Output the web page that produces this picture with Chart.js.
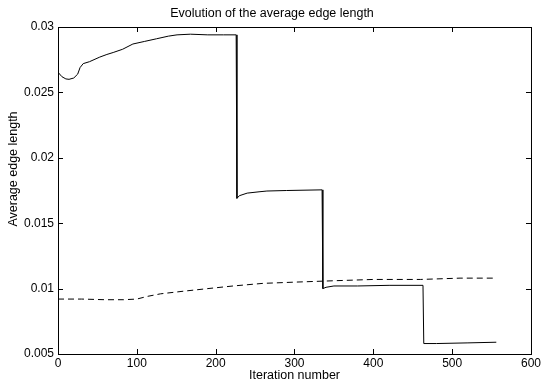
<!DOCTYPE html>
<html>
<head>
<meta charset="utf-8">
<script src="https://cdn.jsdelivr.net/npm/chart.js@4/dist/chart.umd.min.js"></script>
<style>
  html, body { margin: 0; padding: 0; background: #fff; }
  #wrap { width: 543px; height: 383px; }
</style>
</head>
<body>
<div id="wrap"><canvas id="edgeChart"></canvas></div>
<script>
// solid line: average edge length per iteration
const solidIter = [0, 5, 10, 14, 20, 25, 28, 32, 40, 53, 62, 70, 82, 95, 110, 125, 140, 151, 168, 190, 210, 226,
    227, 230, 240, 255, 265, 290, 335,
    336, 340, 350, 380, 420, 463,
    464, 480, 520, 556];
const solidVal = [0.02654, 0.0262, 0.02603, 0.026, 0.0261, 0.0264, 0.0269, 0.0272, 0.02735, 0.0277, 0.0279, 0.02805, 0.0283, 0.0287, 0.0289, 0.0291, 0.0293, 0.0294, 0.02945, 0.0294, 0.0294, 0.0294,
    0.0169, 0.0171, 0.0173, 0.0174, 0.01746, 0.0175, 0.01755,
    0.0100, 0.0101, 0.0102, 0.0102, 0.01025, 0.01025,
    0.0058, 0.0058, 0.00585, 0.0059];

// dashed line
const dashIter = [0, 30, 60, 83, 100, 113, 130, 159, 190, 222, 260, 303, 350, 400, 460, 510, 556];
const dashVal = [0.0092, 0.0092, 0.00915, 0.00915, 0.0092, 0.0094, 0.0096, 0.0098, 0.01, 0.0102, 0.0104, 0.0105, 0.0106, 0.0107, 0.0107, 0.0108, 0.0108];

const xTicks = [0, 100, 200, 300, 400, 500, 600];
const yTicks = [0.005, 0.01, 0.015, 0.02, 0.025, 0.03];

const titleText = 'Evolution of the average edge length';
const xLabel = 'Iteration number';
const yLabel = 'Average edge length';

const FONT = 'Liberation Sans, Arial, Helvetica, sans-serif';

const toPoints = (xs, ys) => xs.map((x, i) => ({ x: x, y: ys[i] }));

// matlab style box with inward ticks on all four sides, plus the labels
const boxTicks = {
    id: 'boxTicks',
    afterDraw(chart) {
        const { ctx, chartArea: a, scales } = chart;
        const len = 5;
        ctx.save();
        ctx.strokeStyle = '#000';
        ctx.lineWidth = 1;
        ctx.strokeRect(a.left + 0.5, a.top + 0.5, a.right - a.left, a.bottom - a.top);
        ctx.beginPath();
        xTicks.forEach(v => {
            const px = Math.round(scales.x.getPixelForValue(v)) + 0.5;
            ctx.moveTo(px, a.bottom); ctx.lineTo(px, a.bottom - len);
            ctx.moveTo(px, a.top); ctx.lineTo(px, a.top + len);
        });
        yTicks.forEach(v => {
            const py = Math.round(scales.y.getPixelForValue(v)) + 0.5;
            ctx.moveTo(a.left, py); ctx.lineTo(a.left + len, py);
            ctx.moveTo(a.right, py); ctx.lineTo(a.right - len, py);
        });
        ctx.stroke();

        ctx.fillStyle = '#000';
        ctx.font = '12.5px ' + FONT;
        ctx.textAlign = 'center';
        ctx.textBaseline = 'middle';
        ctx.fillText(titleText, 272, 14);
        ctx.fillText(xLabel, (a.left + a.right) / 2, 376);
        ctx.translate(14, 169);
        ctx.rotate(-Math.PI / 2);
        ctx.fillText(yLabel, 0, 0);
        ctx.restore();
    }
};

new Chart(document.getElementById('edgeChart'), {
    type: 'line',
    data: {
        datasets: [{
            data: toPoints(solidIter, solidVal),
            borderColor: '#000',
            borderWidth: 1,
            pointRadius: 0,
            tension: 0
        }, {
            data: toPoints(dashIter, dashVal),
            borderColor: '#000',
            borderWidth: 1,
            borderDash: [6, 4],
            pointRadius: 0,
            tension: 0
        }]
    },
    options: {
        responsive: true,
        maintainAspectRatio: false,
        animation: false,
        layout: { padding: { left: 0, right: 11, top: 27, bottom: 0 } },
        plugins: {
            legend: { display: false },
            tooltip: { enabled: false },
            title: { display: false }
        },
        scales: {
            x: {
                type: 'linear',
                min: 0,
                max: 600,
                afterBuildTicks: s => { s.ticks = xTicks.map(v => ({ value: v })); },
                afterFit: s => { s.height = 29; },
                grid: { display: false, drawTicks: false },
                border: { display: false },
                ticks: { color: '#000', font: { family: FONT, size: 12 }, padding: 2, maxRotation: 0 }
            },
            y: {
                type: 'linear',
                min: 0.005,
                max: 0.03,
                afterBuildTicks: s => { s.ticks = yTicks.map(v => ({ value: v })); },
                afterFit: s => { s.width = 58; },
                grid: { display: false, drawTicks: false },
                border: { display: false },
                ticks: {
                    color: '#000',
                    font: { family: FONT, size: 12 },
                    padding: 4,
                    callback: v => String(+v.toFixed(3))
                }
            }
        }
    },
    plugins: [boxTicks]
});
</script>
</body>
</html>
